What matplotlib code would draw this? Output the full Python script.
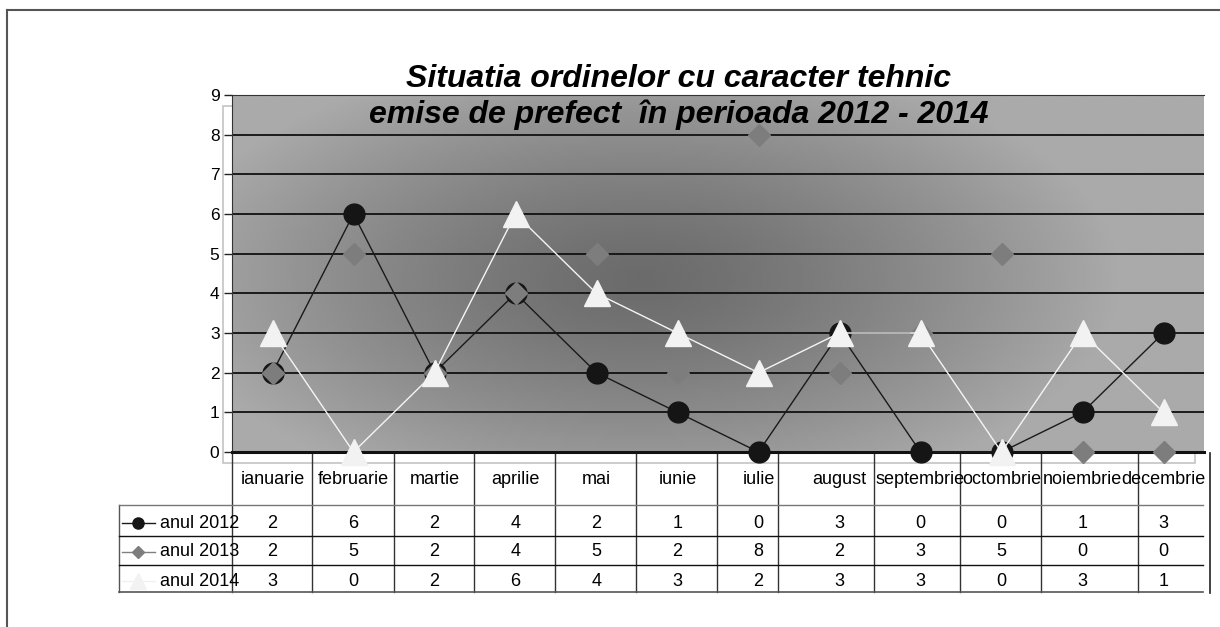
import numpy as np
import matplotlib
matplotlib.use("Agg")
import matplotlib.pyplot as plt
from matplotlib.patches import Rectangle

plt.rcParams['font.family'] = ['Liberation Sans', 'DejaVu Sans']

# -------------------- data --------------------
months = ["ianuarie", "februarie", "martie", "aprilie", "mai", "iunie",
          "iulie", "august", "septembrie", "octombrie", "noiembrie", "decembrie"]
series_names = ["anul 2012", "anul 2013", "anul 2014"]
vals_2012 = [2, 6, 2, 4, 2, 1, 0, 3, 0, 0, 1, 3]
vals_2013 = [2, 5, 2, 4, 5, 2, 8, 2, 3, 5, 0, 0]
vals_2014 = [3, 0, 2, 6, 4, 3, 2, 3, 3, 0, 3, 1]
title_1 = "Situatia ordinelor cu caracter tehnic"
title_2 = "emise de prefect  în perioada 2012 - 2014"

# -------------------- figure / layout (pixel based) --------------------
W, H = 1220, 627
fig = plt.figure(figsize=(W / 100, H / 100), dpi=100)
fig.patch.set_facecolor("white")

px_left, px_right = 232, 1204
px_top, px_bot = 95, 452
ax = fig.add_axes([px_left / W, 1 - px_bot / H,
                   (px_right - px_left) / W, (px_bot - px_top) / H])
ax.set_zorder(2)

# overlay in pixel coordinates for frame / table rules
ov = fig.add_axes([0, 0, 1, 1])
ov.set_xlim(0, W)
ov.set_ylim(H, 0)
ov.axis("off")
ov.set_zorder(1)

def yfrac(ypix):
    return (px_bot - ypix) / (px_bot - px_top)

# -------------------- background gradient --------------------
gx = np.linspace(px_left, px_right, 300)
gy = np.linspace(px_top, px_bot, 120)
GX, GY = np.meshgrid(gx, gy)
r = np.sqrt(((GX - 640) / 480) ** 2 + ((GY - 280) / 230) ** 2)
r = np.clip(r, 0, 1)
shade = 0.42 + (0.665 - 0.42) * r ** 1.3
ax.imshow(shade, cmap="gray", vmin=0, vmax=1, extent=[-0.5, 11.5, 0, 9],
          aspect="auto", origin="upper", zorder=0, interpolation="bilinear")

# -------------------- axes styling --------------------
ax.set_xlim(-0.5, 11.5)
ax.set_ylim(0, 9)
ax.set_yticks(range(0, 10))
ax.set_xticks([])
for yv in range(1, 9):
    ax.axhline(yv, color="#111111", lw=1.3, zorder=1)
ax.spines["right"].set_visible(False)
ax.spines["top"].set_color("#333333")
ax.spines["left"].set_color("#333333")
ax.spines["bottom"].set_color("#111111")
ax.spines["bottom"].set_linewidth(2.2)
ax.tick_params(axis="y", direction="out", length=6, width=1, colors="#222222",
               labelsize=12.5, labelcolor="black", pad=3)

x = np.arange(len(months))
ax.plot(x, vals_2012, color="#1a1a1a", lw=1.0, marker="o", ms=15,
        mfc="#151515", mec="#151515", clip_on=False, zorder=3)
ax.plot(x, vals_2013, ls="none", marker="D", ms=11,
        mfc="#7d7d7d", mec="#7d7d7d", clip_on=False, zorder=4)
ax.plot(x, vals_2014, color="#f5f5f5", lw=1.0, marker="^", ms=19,
        mfc="#f2f2f2", mec="#f2f2f2", clip_on=False, zorder=5)

# -------------------- titles --------------------
fig.text(679 / W, 1 - 87 / H, title_1, ha="center", va="baseline",
         fontsize=23, fontweight="bold", fontstyle="italic", zorder=10)
fig.text(679 / W, 1 - 123 / H, title_2, ha="center", va="baseline",
         fontsize=23, fontweight="bold", fontstyle="italic", zorder=10)

# -------------------- frame & shadow rectangle --------------------
ov.plot([7, W], [10, 10], color="#555555", lw=1.5)
ov.plot([7, 7], [10, H], color="#555555", lw=1.5)
ov.add_patch(Rectangle((223, 106), 1195 - 223, 463 - 106, fill=False,
                       ec="#c4c4c4", lw=1.2))

# -------------------- data table --------------------
col_edges = [232, 312, 394, 474, 555, 636, 717, 778, 874, 960, 1041, 1138]
for cx in col_edges:
    ov.plot([cx, cx], [452, 592], color="#333333", lw=1)
ov.plot([1210, 1210], [453, 593], color="#222222", lw=1.2)
ov.plot([119, 119], [505, 592], color="#555555", lw=1)
ov.plot([119, 1203], [505, 505], color="#777777", lw=1)
ov.plot([119, 1203], [536, 536], color="#111111", lw=1)
ov.plot([119, 1203], [565, 565], color="#111111", lw=1)
ov.plot([119, 1203], [592, 592], color="#555555", lw=1.2)

trans = ax.get_xaxis_transform()
for i, m in enumerate(months):
    ax.text(i, yfrac(479), m, transform=trans, ha="center", va="center",
            fontsize=13, clip_on=False)

rows = [vals_2012, vals_2013, vals_2014]
row_y = [523, 552, 581]
for vals, yp in zip(rows, row_y):
    for i, v in enumerate(vals):
        ax.text(i, yfrac(yp), str(v), transform=trans, ha="center",
                va="center", fontsize=13, clip_on=False)

# legend keys inside the table
key_style = [("#1a1a1a", "o", 8, "#151515"),
             ("#808080", "D", 6.5, "#7d7d7d"),
             ("#f0f0f0", "^", 11, "#f2f2f2")]
for name, yp, (lc, mk, ms, mc) in zip(series_names, row_y, key_style):
    ov.plot([122, 155], [yp, yp], color=lc, lw=1)
    ov.plot([138], [yp], marker=mk, ms=ms, mfc=mc, mec=mc, ls="none")
    ov.text(160, yp, name, ha="left", va="center", fontsize=13)

fig.savefig("out.png", dpi=100, facecolor="white")
